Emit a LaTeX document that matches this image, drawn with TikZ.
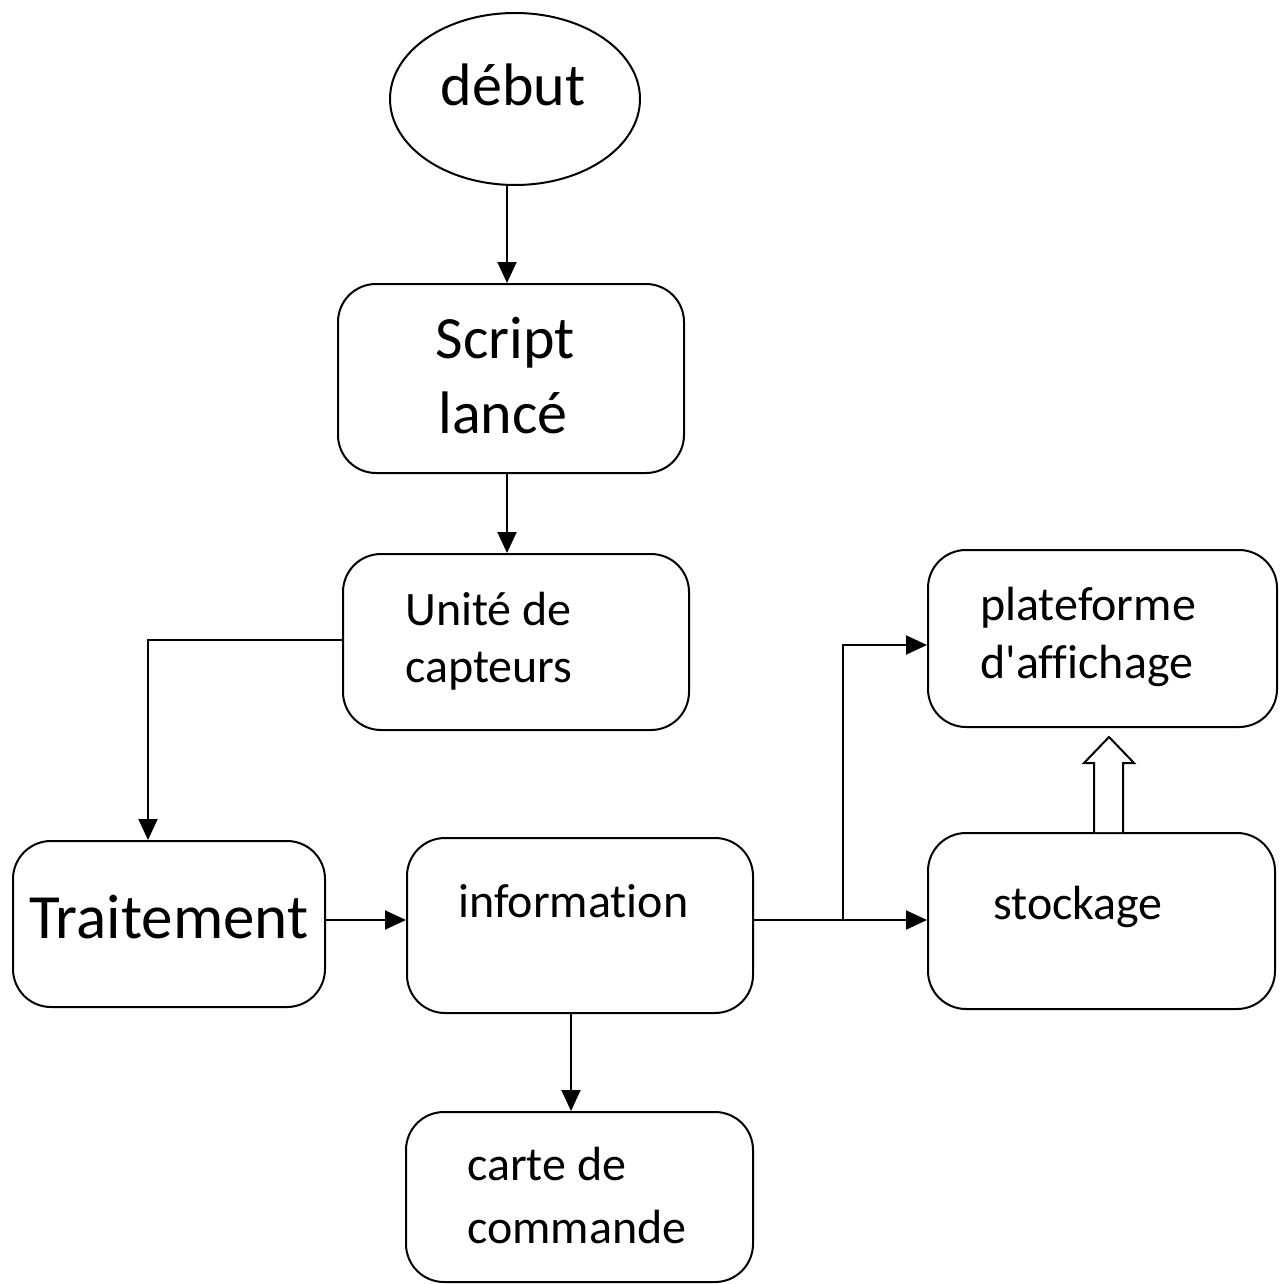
\documentclass[tikz,border=0pt]{standalone}
\usepackage{fontspec}
\setmainfont{Carlito}[Ligatures={NoCommon}]
\usetikzlibrary{arrows.meta,shapes.geometric}
\begin{document}
\begin{tikzpicture}[x=1pt,y=-1pt,
  box/.style={draw, line width=2pt, rounded corners=38pt, inner sep=0pt},
  big/.style={inner sep=0pt, font=\fontsize{60}{72}\selectfont},
  small/.style={inner sep=0pt, font=\fontsize{48}{57}\selectfont},
  arr/.style={line width=2pt, -{Triangle[length=21pt,width=19pt]}},
  ln/.style={line width=2pt}]
\useasboundingbox (0,0) rectangle (1287,1284);
% shapes
\node[draw, ellipse, line width=2pt, minimum width=250pt, minimum height=172pt, inner sep=0pt] (debut) at (515,99) {};
\node[big, anchor=base] (debutT) at (513,106) {début};
\node[box, minimum width=346pt, minimum height=189pt] (script) at (511,378.5) {};
\node[big, anchor=base] (scriptT1) at (505,358) {Script};
\node[big, anchor=base] (scriptT2) at (503,433) {lancé};
\node[box, minimum width=346pt, minimum height=176pt] (unite) at (516,642) {};
\node[small, anchor=base west] (uniteT1) at (405,625) {Unité de};
\node[small, anchor=base west] (uniteT2) at (405,682) {capteurs};
\node[box, minimum width=312pt, minimum height=166pt] (trait) at (169,924) {};
\node[inner sep=0pt, font=\fontsize{63}{72}\selectfont, anchor=base west] (traitT) at (29,938) {Traitement};
\node[box, minimum width=346pt, minimum height=175pt] (info) at (580,925.5) {};
\node[small, anchor=base west] (infoT) at (458,917) {information};
\node[box, minimum width=347pt, minimum height=170pt] (carte) at (579.5,1197) {};
\node[small, anchor=base west] (carteT1) at (467,1180) {carte de};
\node[small, anchor=base west] (carteT2) at (467,1243) {commande};
\node[box, minimum width=349pt, minimum height=177pt] (plat) at (1102.5,638.5) {};
\node[small, anchor=base west] (platT1) at (980,620) {plateforme};
\node[small, anchor=base west] (platT2) at (980,678) {d\textquotesingle affichage};
\node[box, minimum width=347pt, minimum height=176pt] (stock) at (1101.5,921) {};
\node[small, anchor=base west] (stockT) at (993,919) {stockage};
% connectors
\draw[arr] (debut.south -| 507,0) -- (script.north -| 507,0);
\draw[arr] (script.south -| 507,0) -- (unite.north -| 507,0);
\coordinate (tIn) at (148,0);
\draw[arr] (unite.west |- 0,640) -| (trait.north -| tIn);
\draw[arr] (trait.east |- 0,920) -- (info.west |- 0,920);
\draw[arr] (info.east |- 0,920) -- (stock.west |- 0,920);
\coordinate (branch) at (843,920);
\draw[arr] (branch) |- (plat.west |- 0,645);
\draw[arr] (info.south -| 571,0) -- (carte.north -| 571,0);
% hollow arrow
\draw[ln, line join=miter, fill=white] (stock.north -| 1094,0) -- (1094,763) -- (1084,763) -- (1109,737) -- (1134,763) -- (1123,763) -- (stock.north -| 1123,0);
\end{tikzpicture}
\end{document}
